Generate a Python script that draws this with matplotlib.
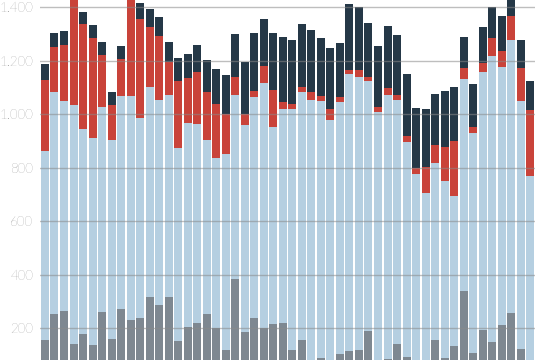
import matplotlib
matplotlib.use("Agg")
import matplotlib.pyplot as plt
import numpy as np
from matplotlib.ticker import FuncFormatter

# cumulative tops (segment boundaries)
gray_top = [156, 253, 266, 141, 179, 138, 261, 160, 273, 231, 240, 318, 287, 318, 152,
            205, 220, 253, 201, 119, 384, 186, 240, 201, 216, 220, 119, 156, 70, 89,
            70, 104, 115, 119, 190, 70, 85, 141, 93, 70, 70, 156, 89, 134, 339, 108,
            194, 149, 212, 257, 123, 70]
blue_top = [863, 1083, 1050, 1035, 946, 913, 1027, 904, 1068, 1068, 986, 1102, 1053, 1072, 874,
            968, 964, 904, 837, 852, 1072, 960, 1065, 1117, 953, 1020, 1020, 1083, 1053, 1050,
            979, 1046, 1151, 1139, 1124, 1009, 1072, 1053, 896, 777, 707, 818, 751, 695, 1132, 930,
            1158, 1218, 1177, 1278, 1050, 769]
red_top = [1128, 1252, 1260, 1470, 1338, 1285, 1222, 1035, 1207, 1470, 1356, 1326, 1293, 1195, 1124,
           1136, 1158, 1083, 1038, 1001, 1139, 1001, 1087, 1181, 1091, 1046, 1038, 1102, 1083, 1068,
           1020, 1065, 1166, 1166, 1139, 1027, 1098, 1072, 919, 799, 803, 885, 878, 900, 1173, 953,
           1192, 1285, 1236, 1368, 1173, 1016]
navy_top = [1188, 1304, 1311, 1500, 1382, 1334, 1269, 1083, 1255, 1500, 1416, 1394, 1364, 1270, 1210,
            1225, 1259, 1203, 1169, 1147, 1300, 1195, 1304, 1356, 1304, 1289, 1278, 1338, 1315, 1285,
            1248, 1267, 1412, 1401, 1341, 1255, 1330, 1297, 1151, 1024, 1020, 1076, 1087, 1102, 1289, 1113,
            1326, 1401, 1368, 1460, 1278, 1124]
y_ticks = [200, 400, 600, 800, 1000, 1200, 1400]

gray_top = np.array(gray_top, float)
blue_top = np.array(blue_top, float)
red_top = np.array(red_top, float)
navy_top = np.array(navy_top, float)
x = np.arange(len(gray_top))

c_gray = "#7e8891"
c_blue = "#b5cfe1"
c_red = "#c9433a"
c_navy = "#253847"

fig = plt.figure(figsize=(5.4, 3.6), dpi=100)
ax = fig.add_axes([40.2 / 540, 0, (535 - 40.2) / 540, 1])
w = 0.84
ax.bar(x, gray_top, width=w, color=c_gray, zorder=2)
ax.bar(x, blue_top - gray_top, bottom=gray_top, width=w, color=c_blue, zorder=2)
ax.bar(x, red_top - blue_top, bottom=blue_top, width=w, color=c_red, zorder=2)
ax.bar(x, navy_top - red_top, bottom=red_top, width=w, color=c_navy, zorder=2)

ax.set_xlim(-0.5, len(x) - 0.5)
ax.set_ylim(81.5, 1427)
ax.set_yticks(y_ticks)
ax.yaxis.set_major_formatter(FuncFormatter(lambda v, p: f"{int(v):,}".replace(",", ".")))
ax.set_xticks([])
ax.tick_params(axis="y", length=0, pad=5, labelsize=9.5, labelcolor="#5a5a5a")
for lab in ax.get_yticklabels():
    lab.set_fontfamily("Lato")
    lab.set_fontweight("light")
ax.grid(axis="y", color="#8a8a8a", alpha=0.55, linewidth=1, zorder=3)
ax.set_axisbelow(False)
for s in ax.spines.values():
    s.set_visible(False)
ax.patch.set_alpha(0)

fig.savefig("out.png", dpi=100)
